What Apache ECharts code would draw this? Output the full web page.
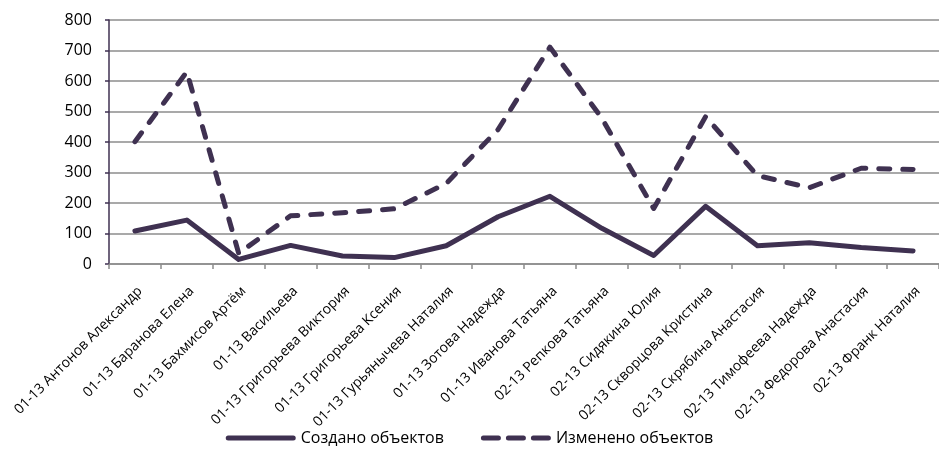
<!DOCTYPE html>
<html>
<head>
<meta charset="utf-8">
<script src="https://cdn.jsdelivr.net/npm/echarts@6/dist/echarts.min.js"></script>
<style>
html,body{margin:0;padding:0;background:#fff;}
#chart{width:939px;height:453px;}
</style>
</head>
<body>
<div id="chart"></div>
<script>
const categories = [
  "01-13 Антонов Александр",
  "01-13 Баранова Елена",
  "01-13 Бахмисов Артём",
  "01-13 Васильева",
  "01-13 Григорьева Виктория",
  "01-13 Григорьева Ксения",
  "01-13 Гурьянычева Наталия",
  "01-13 Зотова Надежда",
  "01-13 Иванова Татьяна",
  "02-13 Репкова Татьяна",
  "02-13 Сидякина Юлия",
  "02-13 Скворцова Кристина",
  "02-13 Скрябина Анастасия",
  "02-13 Тимофеева Надежда",
  "02-13 Федорова Анастасия",
  "02-13 Франк Наталия"
];
const created = [108, 144, 15, 61, 26, 21, 60, 155, 222, 117, 28, 189, 60, 70, 54, 43];
const changed = [401, 630, 35, 158, 168, 181, 264, 441, 711, 478, 182, 483, 290, 250, 314, 310];
const seriesNames = ["Создано объектов", "Изменено объектов"];

const lineColor = "#3f3151";
const font = "Open Sans";

const chart = echarts.init(document.getElementById('chart'), null, {renderer: 'canvas'});
chart.setOption({
  animation: false,
  backgroundColor: '#fff',
  textStyle: {fontFamily: font},
  grid: {left: 109, top: 20, bottom: 189, right: -11, containLabel: false},
  legend: {
    bottom: 2,
    left: 'center',
    itemWidth: 70,
    itemHeight: 5,
    itemGap: 37,
    textStyle: {fontFamily: font, fontSize: 16, color: '#000'},
    data: [
      {name: seriesNames[0], icon: 'path://M2.5,0 H67.5 A2.5,2.5 0 0 1 67.5,5 H2.5 A2.5,2.5 0 0 1 2.5,0 Z'},
      {name: seriesNames[1], icon: 'path://M2.5,0 H17.5 A2.5,2.5 0 0 1 17.5,5 H2.5 A2.5,2.5 0 0 1 2.5,0 Z M27.5,0 H42.5 A2.5,2.5 0 0 1 42.5,5 H27.5 A2.5,2.5 0 0 1 27.5,0 Z M52.5,0 H67.5 A2.5,2.5 0 0 1 67.5,5 H52.5 A2.5,2.5 0 0 1 52.5,0 Z'}
    ]
  },
  xAxis: {
    type: 'category',
    data: categories,
    boundaryGap: true,
    axisLine: {lineStyle: {color: '#8c8c8c', width: 1.5}},
    axisTick: {show: true, length: 5, lineStyle: {color: '#8c8c8c', width: 1.5}},
    axisLabel: {rotate: 45, fontFamily: font, fontSize: 14, color: '#000', margin: 20, interval: 0, verticalAlign: 'top'}
  },
  yAxis: {
    type: 'value',
    min: 0, max: 800, interval: 100,
    axisLine: {show: true, lineStyle: {color: '#3f3151', width: 1.5}},
    axisTick: {show: true, length: 4, lineStyle: {color: '#3f3151', width: 1.5}},
    axisLabel: {fontFamily: font, fontSize: 16, color: '#000', margin: 17},
    splitLine: {lineStyle: {color: '#8c8c8c', width: 1.5}}
  },
  series: [
    {
      name: seriesNames[0],
      type: 'line',
      data: created,
      symbol: 'none',
      itemStyle: {color: lineColor},
      lineStyle: {color: lineColor, width: 5, cap: 'round', join: 'round'}
    },
    {
      name: seriesNames[1],
      type: 'line',
      data: changed,
      symbol: 'none',
      itemStyle: {color: lineColor},
      lineStyle: {color: lineColor, width: 5, type: [11, 13], cap: 'round', join: 'round'}
    }
  ]
});
</script>
</body>
</html>
